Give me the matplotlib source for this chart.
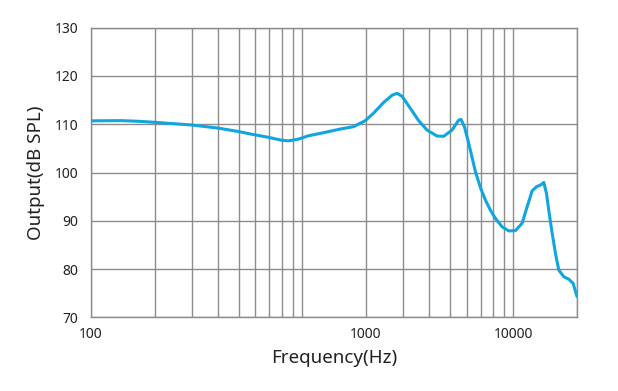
import matplotlib
matplotlib.use("Agg")
import matplotlib.pyplot as plt
import numpy as np
from matplotlib.ticker import FixedLocator, NullFormatter

plt.rcParams['font.family'] = ['Noto Sans', 'DejaVu Sans']

freq = [100, 139, 170, 200, 299, 400, 497, 597, 690, 795, 858, 957, 1068, 1217,
        1514, 1751, 1989, 2177, 2428, 2662, 2811, 2969, 3250, 3558, 3899, 4349,
        4674, 5123, 5506, 5651, 5859, 6074, 6256, 6606, 6976, 7367, 7780, 8216,
        8841, 9500, 10221, 10996, 11613, 12264, 12853, 13427, 13920, 14333,
        14700, 15256, 15813, 16397, 17317, 18290, 19184, 20000]
spl = [110.7, 110.75, 110.6, 110.4, 109.85, 109.2, 108.5, 107.8, 107.3, 106.7,
       106.55, 106.9, 107.6, 108.1, 109.0, 109.5, 110.75, 112.3, 114.5, 116.0,
       116.4, 115.8, 113.3, 110.75, 108.8, 107.55, 107.5, 108.8, 110.85, 111.0,
       109.5, 106.9, 104.6, 100.2, 96.9, 94.3, 92.2, 90.5, 88.75, 87.9, 87.95,
       89.5, 92.9, 96.2, 97.05, 97.4, 97.95, 95.7, 92.2, 87.4, 83.25, 79.8,
       78.4, 77.9, 77.0, 74.3]

xtick_pos = [100, 2000, 10000]
xtick_labels = ["100", "1000", "10000"]
yticks = [70, 80, 90, 100, 110, 120, 130]
xgrid = [m * d for d in (100, 1000) for m in range(1, 10)] + [10000, 20000]

fig = plt.figure(figsize=(6.18, 3.91), dpi=100)
ax = fig.add_axes([91/618, 1-317.3/391, (577-91)/618, (317.3-27.7)/391])

grid_c = '#8c8c8c'
ax.plot(freq, spl, color='#0fa6e0', lw=2.2, solid_capstyle='round',
        solid_joinstyle='round', zorder=3)

ax.set_xscale('log')
ax.set_xlim(100, 20000)
ax.set_ylim(70, 130)

for g in xgrid:
    ax.axvline(g, color=grid_c, lw=1.0, zorder=1)
ax.set_yticks(yticks)
ax.grid(True, which='major', axis='y', color=grid_c, lw=1.0)
ax.set_xticks(xtick_pos)
ax.set_xticklabels(xtick_labels)
ax.xaxis.set_minor_locator(FixedLocator([]))

ax.tick_params(axis='both', which='both', length=0, labelsize=10, colors='#222222')
ax.tick_params(axis='x', pad=7)
ax.tick_params(axis='y', pad=9)
for s in ax.spines.values():
    s.set_color(grid_c)
    s.set_linewidth(1.0)

ax.set_xlabel('Frequency(Hz)', fontsize=13.5, color='#222222', labelpad=5)
ax.set_ylabel('Output(dB SPL)', fontsize=13.5, color='#222222', labelpad=7)

fig.savefig('out.png', dpi=100)
